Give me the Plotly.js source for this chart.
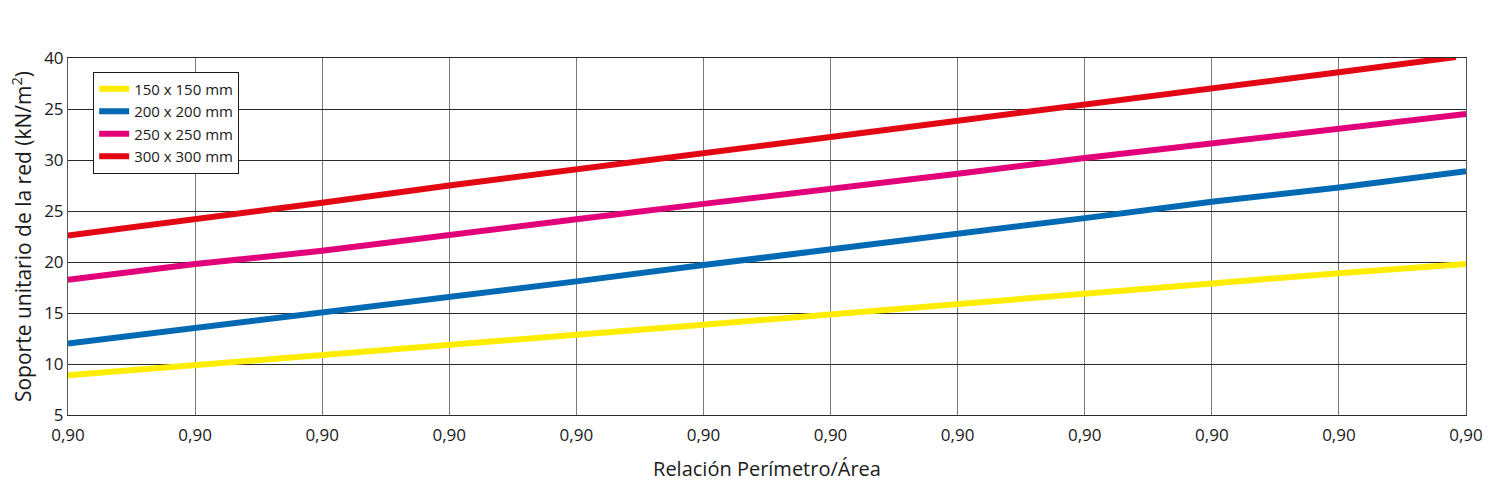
<!DOCTYPE html>
<html>
<head>
<meta charset="utf-8">
<script src="https://cdn.plot.ly/plotly-3.0.1.min.js"></script>
<style>
  html, body { margin: 0; padding: 0; background: #fff; }
  #chart { width: 1500px; height: 498px; }
</style>
</head>
<body>
<div id="chart"></div>
<script>
// x positions are the 12 grid columns; every tick on the original reads "0,90"
const xIndex = [0, 1, 2, 3, 4, 5, 6, 7, 8, 9, 10, 11];
const xRed = [0, 1, 2, 3, 4, 5, 6, 7, 8, 9, 10, 10.92];
const xTickText = ["0,90", "0,90", "0,90", "0,90", "0,90", "0,90",
                   "0,90", "0,90", "0,90", "0,90", "0,90", "0,90"];

// y ticks as printed on the original (bottom to top)
const yTickVals = [5, 10, 15, 20, 25, 30, 35, 40];
const yTickText = ["5", "10", "15", "20", "25", "30", "25", "40"];

const seriesNames = ["150 x 150 mm", "200 x 200 mm", "250 x 250 mm", "300 x 300 mm"];
const seriesColors = ["#ffed00", "#0069b4", "#e2007a", "#e30613"];

const y150 = [8.9, 9.86, 10.84, 11.9, 12.87, 13.85, 14.83, 15.8, 16.9, 17.9, 18.9, 19.8];
const y200 = [12.0, 13.5, 15.0, 16.6, 18.1, 19.7, 21.2, 22.7, 24.3, 25.9, 27.3, 28.9];
const y250 = [18.26, 19.8, 21.1, 22.7, 24.2, 25.7, 27.15, 28.65, 30.2, 31.6, 33.1, 34.5];
const y300 = [22.6, 24.15, 25.8, 27.5, 29.05, 30.6, 32.25, 33.85, 35.4, 37.0, 38.6, 40.1];

const xs = [xIndex, xIndex, xIndex, xRed];
const ys = [y150, y200, y250, y300];

const data = ys.map((y, i) => ({
  x: xs[i],
  y: y,
  name: seriesNames[i],
  mode: "lines",
  line: { color: seriesColors[i], width: 6 },
  hoverinfo: "skip"
}));

const font = "Open Sans, Liberation Sans, sans-serif";

const layout = {
  width: 1500,
  height: 498,
  margin: { l: 68, r: 34, t: 58, b: 83 },
  paper_bgcolor: "#fff",
  plot_bgcolor: "#fff",
  font: { family: font, color: "#1a1a1a", size: 16 },
  showlegend: true,
  legend: {
    x: 0.018, y: 0.962, xanchor: "left", yanchor: "top",
    bgcolor: "#fff", bordercolor: "#1a1a1a", borderwidth: 1,
    font: { family: font, size: 15, color: "#1a1a1a" },
    tracegroupgap: 0
  },
  xaxis: {
    range: [0, 11],
    tickmode: "array",
    tickvals: xIndex,
    ticktext: xTickText,
    ticks: "outside",
    ticklen: 5,
    tickcolor: "rgba(0,0,0,0)",
    showgrid: true,
    gridcolor: "#7a7a7a",
    gridwidth: 1,
    zeroline: false,
    showline: true,
    linecolor: "#2a2a2a",
    linewidth: 1,
    mirror: true,
    tickfont: { family: font, size: 17 },
    title: { text: "Relación Perímetro/Área", font: { family: font, size: 20 }, standoff: 16 }
  },
  xaxis2: {
    overlaying: "x",
    matches: "x",
    range: [0, 11],
    tickmode: "array",
    tickvals: [8, 9, 10],
    showticklabels: false,
    ticks: "",
    showgrid: true,
    gridcolor: "#2a2a2a",
    zeroline: false,
    showline: false
  },
  yaxis: {
    range: [5, 40],
    tickmode: "array",
    tickvals: yTickVals,
    ticktext: yTickText,
    ticks: "",
    showgrid: true,
    gridcolor: "#2a2a2a",
    gridwidth: 1,
    zeroline: false,
    showline: true,
    linecolor: "#555",
    linewidth: 1,
    mirror: true,
    tickfont: { family: font, size: 17 },
    title: { text: "Soporte unitario de la red (kN/m<sup>2</sup>)", font: { family: font, size: 21 }, standoff: 6 }
  }
};

Plotly.newPlot("chart", data, layout, { displayModeBar: false, staticPlot: true });
</script>
</body>
</html>
